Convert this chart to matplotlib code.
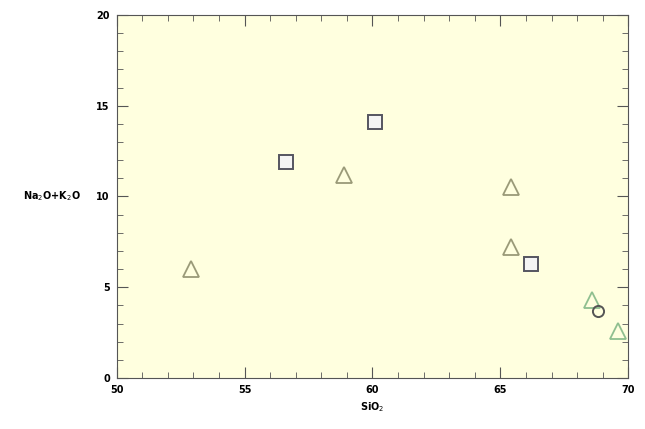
import matplotlib
matplotlib.use("Agg")
from matplotlib import pyplot as plt
from matplotlib.ticker import MultipleLocator

# triangles (olive) and the two green ones near the right
tri_x = [52.9, 58.9, 65.4, 65.4]
tri_y = [6.0, 11.2, 10.5, 7.2]
tri_g_x = [68.6, 69.6]
tri_g_y = [4.3, 2.6]
sq_x = [56.6, 60.1, 66.2]
sq_y = [11.9, 14.1, 6.3]
circ_x = [68.8]
circ_y = [3.7]

fig = plt.figure(figsize=(6.45, 4.29), dpi=100)
ax = fig.add_axes([0.181, 0.119, 0.793, 0.846])
ax.set_facecolor('#ffffdf')

ax.plot(tri_x, tri_y, '^', ms=11, mfc='none', mec='#9a9a78', mew=1.3)
ax.plot(tri_g_x, tri_g_y, '^', ms=11, mfc='none', mec='#8fbf8f', mew=1.3)
ax.plot(sq_x, sq_y, 's', ms=10, mfc='#f4f4f4', mec='#555560', mew=1.4)
ax.plot(circ_x, circ_y, 'o', ms=8, mfc='none', mec='#555555', mew=1.4)

ax.set_xlim(50, 70)
ax.set_ylim(0, 20)
ax.xaxis.set_major_locator(MultipleLocator(5))
ax.xaxis.set_minor_locator(MultipleLocator(1))
ax.yaxis.set_major_locator(MultipleLocator(5))
ax.yaxis.set_minor_locator(MultipleLocator(1))
ax.tick_params(which='both', direction='in', top=True, right=True,
               colors='#555555', labelcolor='black', labelsize=7, pad=5)
ax.tick_params(which='major', length=8)
ax.tick_params(which='minor', length=4)
for lab in ax.get_xticklabels() + ax.get_yticklabels():
    lab.set_fontweight('bold')
for s in ax.spines.values():
    s.set_color('#555555')

ax.set_xlabel(r"SiO$_2$", fontsize=7, fontweight='bold')
ax.set_ylabel(r"Na$_2$O+K$_2$O", fontsize=7, fontweight='bold',
              rotation=0, labelpad=32, va='center')
fig.savefig("out.png", dpi=100)
